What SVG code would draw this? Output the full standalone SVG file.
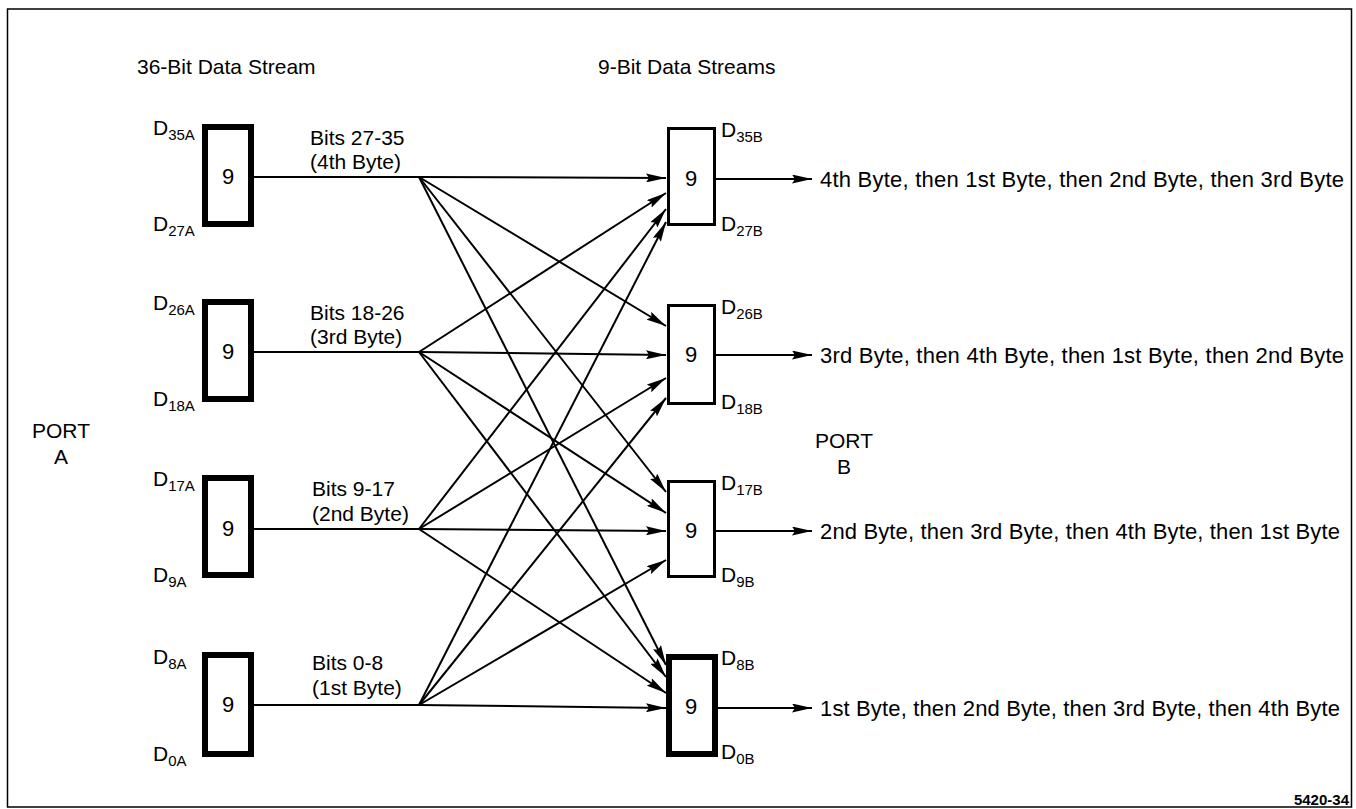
<svg xmlns="http://www.w3.org/2000/svg" width="1356" height="809" viewBox="0 0 1356 809">
<style>
text{font-family:"Liberation Sans",Arial,Helvetica,sans-serif;fill:#000}
.t{font-size:21px}
.r{font-size:22px}
.d{font-size:21px}
.s{font-size:15px}
.n{font-size:22px;text-anchor:middle}
.p{font-size:21px;text-anchor:middle}
.thick{fill:#fff;stroke:#000;stroke-width:6}
.thin{fill:#fff;stroke:#000;stroke-width:3}
.c line{stroke:#000;stroke-width:2}
.a{marker-end:url(#ah)}
</style>
<defs>
<marker id="ah" markerUnits="userSpaceOnUse" markerWidth="20" markerHeight="9" refX="20" refY="4.5" orient="auto" viewBox="0 0 20 9">
<path d="M0,0 L20,4.5 L0,9 L3,4.5 z" fill="#000"/>
</marker>
</defs>
<rect x="7.5" y="9" width="1344" height="798" fill="none" stroke="#000" stroke-width="1.5"/>
<text class="t" x="137" y="74">36-Bit Data Stream</text>
<text class="t" x="598" y="74">9-Bit Data Streams</text>
<g id="portA"><text class="p" x="61" y="438">PORT</text><text class="p" x="61" y="464">A</text></g>
<g id="portB"><text class="p" x="844" y="448">PORT</text><text class="p" x="844" y="474">B</text></g>

<g class="c" id="connectors">
<line x1="254" y1="177" x2="419" y2="177"/>
<line x1="254" y1="352" x2="419" y2="352"/>
<line x1="254" y1="529" x2="419" y2="529"/>
<line x1="254" y1="705" x2="419" y2="705"/>
<!-- row 1 -->
<line class="a" x1="419" y1="177" x2="666" y2="178"/>
<line class="a" x1="419" y1="177" x2="666" y2="326"/>
<line class="a" x1="419" y1="177" x2="666" y2="492"/>
<line class="a" x1="419" y1="177" x2="666" y2="665"/>
<!-- row 2 -->
<line class="a" x1="419" y1="352" x2="666" y2="193"/>
<line class="a" x1="419" y1="352" x2="666" y2="355"/>
<line class="a" x1="419" y1="352" x2="666" y2="513"/>
<line class="a" x1="419" y1="352" x2="666" y2="677"/>
<!-- row 3 -->
<line class="a" x1="419" y1="529" x2="666" y2="209"/>
<line class="a" x1="419" y1="529" x2="666" y2="378"/>
<line class="a" x1="419" y1="529" x2="666" y2="531"/>
<line class="a" x1="419" y1="529" x2="666" y2="693"/>
<!-- row 4 -->
<line class="a" x1="419" y1="705" x2="666" y2="222"/>
<line class="a" x1="419" y1="705" x2="666" y2="398"/>
<line class="a" x1="419" y1="705" x2="666" y2="560"/>
<line class="a" x1="419" y1="705" x2="666" y2="708"/>
<!-- outputs -->
<line class="a" x1="716" y1="179" x2="812" y2="179"/>
<line class="a" x1="716" y1="355" x2="812" y2="355"/>
<line class="a" x1="716" y1="531" x2="812" y2="531"/>
<line class="a" x1="718" y1="708" x2="812" y2="708"/>
</g>

<g id="A1">
<rect class="thick" x="205" y="127" width="46" height="97"/>
<text class="n" x="228" y="184">9</text>
<text class="d" x="153" y="135">D<tspan class="s" dy="5">35A</tspan></text>
<text class="d" x="153" y="231">D<tspan class="s" dy="5">27A</tspan></text>
</g>
<g id="A2">
<rect class="thick" x="205" y="302" width="46" height="97"/>
<text class="n" x="228" y="359">9</text>
<text class="d" x="153" y="310">D<tspan class="s" dy="5">26A</tspan></text>
<text class="d" x="153" y="406">D<tspan class="s" dy="5">18A</tspan></text>
</g>
<g id="A3">
<rect class="thick" x="205" y="478" width="46" height="97"/>
<text class="n" x="228" y="536">9</text>
<text class="d" x="153" y="486">D<tspan class="s" dy="5">17A</tspan></text>
<text class="d" x="153" y="582">D<tspan class="s" dy="5">9A</tspan></text>
</g>
<g id="A4">
<rect class="thick" x="205" y="655" width="46" height="99"/>
<text class="n" x="228" y="712">9</text>
<text class="d" x="153" y="664">D<tspan class="s" dy="5">8A</tspan></text>
<text class="d" x="153" y="761">D<tspan class="s" dy="5">0A</tspan></text>
</g>

<g id="L1"><text class="t" x="310" y="145">Bits 27-35</text><text class="t" x="310" y="169">(4th Byte)</text></g>
<g id="L2"><text class="t" x="310" y="320">Bits 18-26</text><text class="t" x="310" y="344">(3rd Byte)</text></g>
<g id="L3"><text class="t" x="312" y="496">Bits 9-17</text><text class="t" x="312" y="521">(2nd Byte)</text></g>
<g id="L4"><text class="t" x="312" y="670">Bits 0-8</text><text class="t" x="312" y="695">(1st Byte)</text></g>

<g id="B1">
<rect class="thin" x="668.5" y="128.5" width="46" height="96"/>
<text class="n" x="691" y="186">9</text>
<text class="d" x="721" y="137">D<tspan class="s" dy="5">35B</tspan></text>
<text class="d" x="721" y="231">D<tspan class="s" dy="5">27B</tspan></text>
</g>
<g id="B2">
<rect class="thin" x="668.5" y="305.5" width="46" height="98"/>
<text class="n" x="691" y="362">9</text>
<text class="d" x="721" y="314">D<tspan class="s" dy="5">26B</tspan></text>
<text class="d" x="721" y="409">D<tspan class="s" dy="5">18B</tspan></text>
</g>
<g id="B3">
<rect class="thin" x="668.5" y="481.5" width="46" height="95"/>
<text class="n" x="691" y="538">9</text>
<text class="d" x="721" y="490">D<tspan class="s" dy="5">17B</tspan></text>
<text class="d" x="721" y="582">D<tspan class="s" dy="5">9B</tspan></text>
</g>
<g id="B4">
<rect class="thick" x="669" y="657" width="46" height="97"/>
<text class="n" x="691" y="714">9</text>
<text class="d" x="721" y="665">D<tspan class="s" dy="5">8B</tspan></text>
<text class="d" x="721" y="759">D<tspan class="s" dy="5">0B</tspan></text>
</g>

<g id="O1"><text class="r" x="820" y="187" textLength="524">4th Byte, then 1st Byte, then 2nd Byte, then 3rd Byte</text></g>
<g id="O2"><text class="r" x="820" y="363" textLength="524">3rd Byte, then 4th Byte, then 1st Byte, then 2nd Byte</text></g>
<g id="O3"><text class="r" x="820" y="539" textLength="520">2nd Byte, then 3rd Byte, then 4th Byte, then 1st Byte</text></g>
<g id="O4"><text class="r" x="820" y="716" textLength="520">1st Byte, then 2nd Byte, then 3rd Byte, then 4th Byte</text></g>

<text x="1349" y="805" style="font-size:15px;font-weight:bold;text-anchor:end">5420-34</text>
</svg>
